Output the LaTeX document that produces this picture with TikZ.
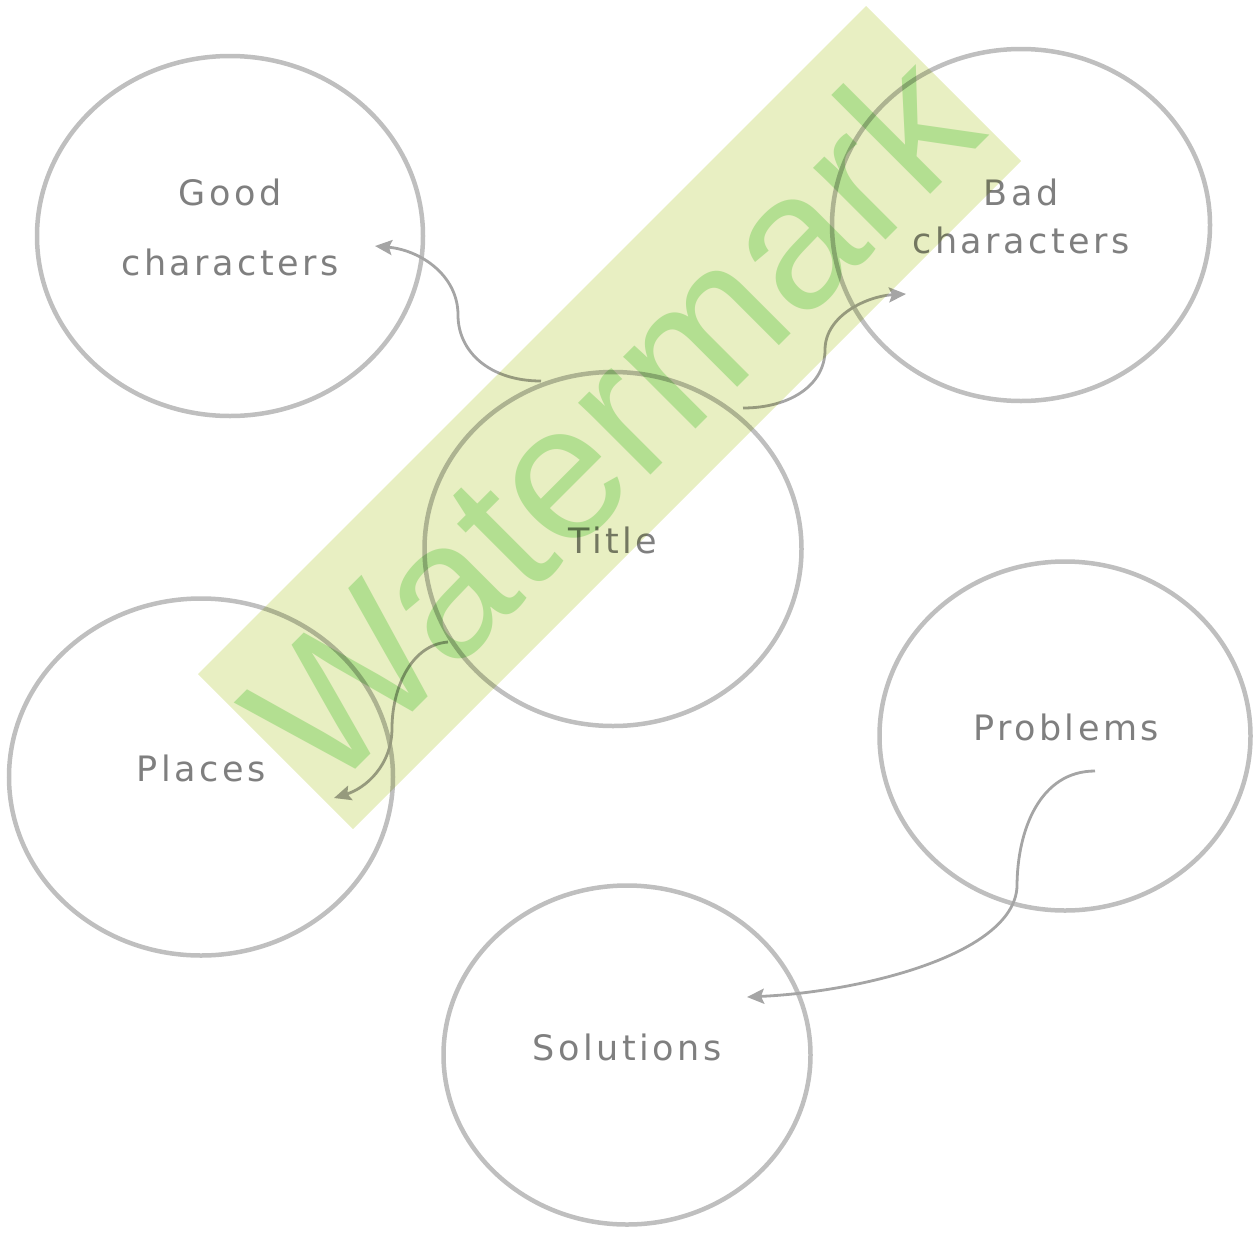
\documentclass[tikz,border=0pt]{standalone}
\usepackage{fontspec}
\newfontfamily\lblfont[LetterSpace=10]{DejaVu Sans}
\newfontfamily\wmfont{Liberation Sans}
\usetikzlibrary{arrows.meta,shapes.geometric}
\definecolor{circ}{HTML}{BFBFBF}
\definecolor{txt}{HTML}{7F7F7F}
\definecolor{arr}{HTML}{A5A5A5}
\definecolor{bandc}{RGB}{232,239,194}
\definecolor{wmk}{RGB}{197,238,191}
\tikzset{
  bubble/.style={ellipse, draw=circ, line width=4.5pt, inner sep=0pt},
  lbl/.style={text=txt, inner sep=0pt, font=\lblfont\fontsize{35}{40}\selectfont},
  conn/.style={draw=arr, line width=2.8pt, -{Stealth[length=17pt,width=15pt,inset=3pt]}},
}
\begin{document}
\begin{tikzpicture}[x=1pt,y=-1pt]
\useasboundingbox (0,0) rectangle (1255,1237);
% ellipses
\node[bubble, minimum width=386pt, minimum height=360pt] (good) at (230,236) {};
\node[bubble, minimum width=378pt, minimum height=352pt] (bad) at (1021,225) {};
\node[bubble, minimum width=377pt, minimum height=354pt] (title) at (613,549) {};
\node[bubble, minimum width=384pt, minimum height=357pt] (places) at (201,777) {};
\node[bubble, minimum width=371pt, minimum height=349pt] (problems) at (1065,736) {};
\node[bubble, minimum width=367pt, minimum height=339pt] (solutions) at (627,1055) {};
% labels
\node[lbl] (goodA) at (230,192) {Good};
\node[lbl] (goodB) at (230,262) {characters};
\node[lbl] (badA) at (1021,192) {Bad};
\node[lbl] (badB) at (1021,240) {characters};
\node[lbl] (titleT) at (613,540) {Title};
\node[lbl] (placesT) at (201,768) {Places};
\node[lbl] (problemsT) at (1066,727) {Problems};
\node[lbl] (solutionsT) at (627,1047) {Solutions};
% connector end points
\coordinate (s1) at (541,381);
\coordinate (m1) at (458,315);
\coordinate (e1) at (375,246);
\coordinate (s2) at (743,408);
\coordinate (m2) at (825,350);
\coordinate (e2) at (906,294);
\coordinate (s3) at (448,642);
\coordinate (m3) at (392,728);
\coordinate (e3) at (334,798);
\coordinate (s4) at (1095,771);
\coordinate (m4) at (1017,887);
\coordinate (e4) at (747,997);
% connectors
\draw[conn] (s1) .. controls (490,381) and (458,352) .. (m1) .. controls (458,275) and (420,250) .. (e1);
\draw[conn] (s2) .. controls (790,408) and (825,385) .. (m2) .. controls (825,315) and (868,296) .. (e2);
\draw[conn] (s3) .. controls (410,645) and (392,690) .. (m3) .. controls (392,765) and (366,788) .. (e3);
\draw[conn] (s4) .. controls (1040,771) and (1017,830) .. (m4) .. controls (1013,955) and (860,992) .. (e4);
% watermark
\begin{scope}[blend mode=multiply]
  \coordinate (bT) at (866,6);
  \coordinate (bR) at (1021,161);
  \coordinate (bB) at (353,829);
  \coordinate (bL) at (198,674);
  \fill[bandc] (bT) -- (bR) -- (bB) -- (bL) -- cycle;
  \node[text=wmk, inner sep=0pt, rotate=45, font=\wmfont\fontsize{193}{200}\selectfont] (wm) at (610,418) {Watermark};
\end{scope}
\end{tikzpicture}
\end{document}
